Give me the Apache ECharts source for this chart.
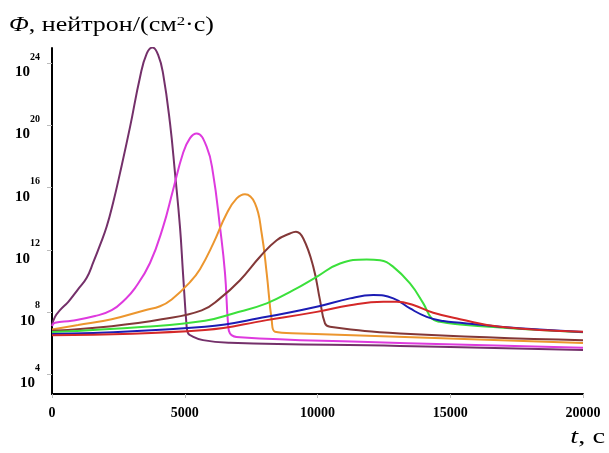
<!DOCTYPE html>
<html>
<head>
<meta charset="utf-8">
<script src="https://cdn.jsdelivr.net/npm/echarts@6/dist/echarts.min.js"></script>
<style>html,body{margin:0;padding:0;background:#fff}#c{width:609px;height:453px}</style>
</head>
<body>
<div id="c"></div>
<script>
// x ticks (time, s)
const xTicks = [0, 5000, 10000, 15000, 20000];
// y tick exponents (Φ = 10^n)
const yTickExp = [4, 8, 12, 16, 20, 24];

// Each curve: times (s) and log10(Φ)
const t1 = [0, 113, 301, 614, 979, 1307, 1557, 1808, 2060, 2311, 2561, 2938, 3315, 3567, 3793, 4004, 4181, 4445, 4633, 4821, 4934, 5073, 5122, 5198, 5687, 6704, 13107, 20000];
const e1 = [7.15, 7.68, 8.11, 8.65, 9.45, 10.20, 11.20, 12.30, 13.50, 15.10, 16.94, 19.90, 23.12, 24.64, 25.03, 24.53, 23.38, 20.16, 16.94, 13.46, 10.50, 7.02, 6.63, 6.50, 6.18, 6.01, 5.80, 5.54];

const t2 = [0, 113, 742, 1620, 2249, 2750, 3126, 3691, 4181, 4557, 4934, 5198, 5450, 5827, 6064, 6328, 6516, 6629, 6704, 7081, 11601, 20000];
const e2 = [7.09, 7.30, 7.43, 7.73, 8.11, 8.80, 9.53, 11.15, 13.46, 15.84, 18.22, 19.19, 19.49, 18.63, 16.94, 13.46, 10.50, 7.28, 6.61, 6.36, 6.07, 5.69];

const t3 = [0, 979, 2249, 3503, 4068, 4508, 5198, 5574, 6076, 6580, 6957, 7269, 7646, 7898, 8087, 8275, 8399, 9341, 20000];
const e3 = [6.87, 7.15, 7.53, 8.11, 8.36, 8.80, 9.92, 10.75, 12.41, 14.34, 15.31, 15.58, 14.99, 13.05, 10.48, 7.47, 6.72, 6.61, 5.99];

const t4 = [0, 2249, 4132, 5638, 6328, 7081, 7834, 8463, 8964, 9190, 9465, 9842, 10094, 10282, 10470, 13107, 20000];
const e4 = [6.78, 7.08, 7.52, 8.10, 8.87, 10.04, 11.55, 12.62, 13.05, 13.16, 12.73, 10.90, 8.76, 7.26, 7.04, 6.61, 6.18];

const t5 = [0, 3503, 5763, 6829, 8087, 9089, 9970, 10848, 11853, 12355, 12855, 13484, 13985, 14301, 14614, 15367, 16874, 20000];
const e5 = [6.70, 7.04, 7.43, 7.90, 8.55, 9.40, 10.26, 11.12, 11.38, 11.33, 10.90, 9.83, 8.55, 7.58, 7.36, 7.19, 6.99, 6.68];

const t6 = [0, 5763, 8087, 9970, 11224, 12102, 12855, 13484, 14113, 14738, 15367, 16874, 20000];
const e6 = [6.57, 7.04, 7.68, 8.33, 8.87, 9.08, 8.87, 8.22, 7.68, 7.41, 7.30, 7.05, 6.70];

const t7 = [0, 5763, 8087, 9970, 11224, 12479, 12983, 13608, 14361, 15367, 16874, 20000];
const e7 = [6.50, 6.83, 7.47, 8.00, 8.43, 8.65, 8.65, 8.44, 7.94, 7.53, 7.04, 6.72];

const curves = [
  [t1, e1, '#74306A'],
  [t2, e2, '#DE3ADE'],
  [t3, e3, '#EC962E'],
  [t4, e4, '#833838'],
  [t5, e5, '#3BE03B'],
  [t6, e6, '#1C1CB4'],
  [t7, e7, '#D42828']
];

const chart = echarts.init(document.getElementById('c'), null, {renderer: 'canvas'});
const serif = '"Liberation Serif", "DejaVu Serif", serif';

chart.setOption({
  animation: false,
  backgroundColor: '#fff',
  graphic: [{
    type: 'text', x: 9, y: 15, scaleX: 1.3,
    style: {
      x: 0, y: 0, verticalAlign: 'top', align: 'left',
      text: '{i|Φ}{r|, нейтрон/(см}{s|2}{r|·с)}',
      rich: {
        i: {fontFamily: serif, fontSize: 20, fontStyle: 'italic', fill: '#000'},
        r: {fontFamily: serif, fontSize: 20, fill: '#000'},
        s: {fontFamily: serif, fontSize: 13, fill: '#000', padding: [0, 0, 9, 0]}
      }
    }
  }, {
    type: 'text', x: 605, y: 437, scaleX: 1.35,
    style: {
      x: 0, y: 0, verticalAlign: 'middle', align: 'right',
      text: '{i|t}{r|, с}',
      rich: {
        i: {fontFamily: serif, fontSize: 21, fontStyle: 'italic', fill: '#000'},
        r: {fontFamily: serif, fontSize: 21, fill: '#000'}
      }
    }
  }],
  grid: {left: 52, right: 26, top: 48, bottom: 59, containLabel: false},
  xAxis: {
    type: 'value', min: 0, max: 20000, interval: 5000,
    axisLine: {show: true, lineStyle: {color: '#000', width: 2}},
    axisTick: {show: true, length: 4, lineStyle: {color: '#bbb'}, customValues: xTicks},
    axisLabel: {customValues: xTicks, formatter: v => String(v), fontFamily: serif, fontWeight: 'bold', fontSize: 14, color: '#000', margin: 12},
    splitLine: {show: false}
  },
  yAxis: {
    type: 'log', logBase: 10, min: Math.pow(10, 2.71), max: 1e25,
    axisLine: {show: true, lineStyle: {color: '#000', width: 2}},
    axisTick: {show: true, length: 5, inside: false, lineStyle: {color: '#bbb'}, customValues: yTickExp.map(n => Math.pow(10, n))},
    axisLabel: {
      customValues: yTickExp.map(n => Math.pow(10, n)),
      margin: 12,
      formatter: v => '{b|10}{e|' + Math.round(Math.log10(v)) + '}',
      rich: {
        b: {fontFamily: serif, fontWeight: 'bold', fontSize: 15, color: '#000', padding: [18, 0, 0, 0]},
        e: {fontFamily: serif, fontWeight: 'bold', fontSize: 10, color: '#000', padding: [0, 0, 12, 0]}
      }
    },
    splitLine: {show: false}
  },
  series: curves.map(([ts, es, col]) => ({
    type: 'line',
    data: ts.map((t, i) => [t, Math.pow(10, es[i])]),
    showSymbol: false,
    smooth: 0.45,
    lineStyle: {color: col, width: 2},
    itemStyle: {color: col}
  }))
});
</script>
</body>
</html>
